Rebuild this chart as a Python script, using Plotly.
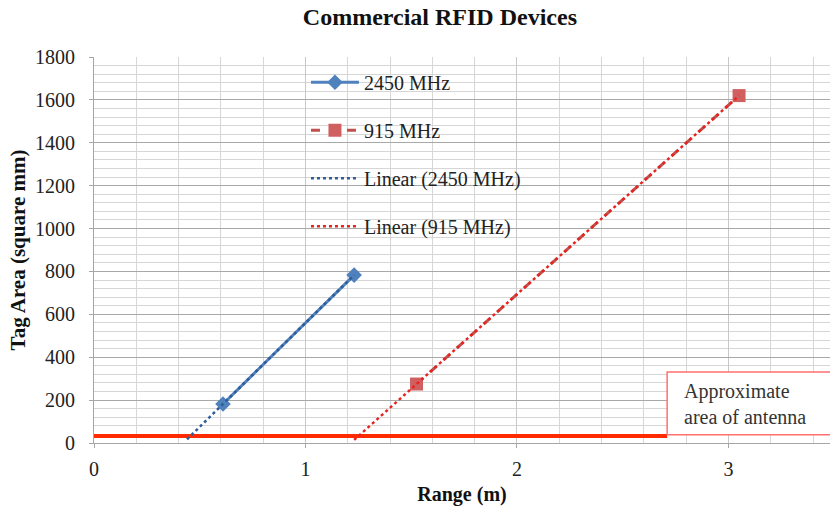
import numpy as np
import plotly.graph_objects as go

# ---- data ----
x_2450 = [0.61, 1.23]
y_2450 = [182, 783]
x_915 = [1.525, 3.05]
y_915 = [275, 1620]
trend_start_2450 = 0.44
trend_start_915 = 1.23
antenna_area = 33
antenna_x = [0, 2.71]
x_ticks = [0, 1, 2, 3]
y_ticks = [0, 200, 400, 600, 800, 1000, 1200, 1400, 1600, 1800]

FONT = "Liberation Serif, Times New Roman, serif"

def trend(xs, ys, x0):
    m, b = np.polyfit(xs, ys, 1)
    xx = np.array([x0, xs[-1]])
    return xx, m * xx + b

tx_b, ty_b = trend(x_2450, y_2450, trend_start_2450)
tx_r, ty_r = trend(x_915, y_915, trend_start_915)

fig = go.Figure()

fig.add_trace(go.Scatter(x=antenna_x, y=[antenna_area, antenna_area], mode="lines",
                         line=dict(color="#FF2A00", width=4), showlegend=False, hoverinfo="skip"))

fig.add_trace(go.Scatter(x=x_2450, y=y_2450, name="2450 MHz", mode="lines+markers",
                         line=dict(color="#4F81BD", width=3),
                         marker=dict(symbol="diamond", size=12, color="#4F81BD"),
                         legendgroup="a"))
fig.add_trace(go.Scatter(x=x_915, y=y_915, name="915 MHz", mode="lines+markers",
                         line=dict(color="#C0504D", width=3, dash="dash"),
                         marker=dict(symbol="square", size=13, color="#D06060"),
                         legendgroup="b"))
fig.add_trace(go.Scatter(x=tx_b, y=ty_b, name="Linear (2450 MHz)", mode="lines",
                         line=dict(color="#2E5D9A", width=2.5, dash="dot"),
                         legendgroup="c"))
fig.add_trace(go.Scatter(x=tx_r, y=ty_r, name="Linear (915 MHz)", mode="lines",
                         line=dict(color="#E8231F", width=2.5, dash="dot"),
                         legendgroup="d"))

# white panel behind legend (covers gridlines from plot top)
fig.add_shape(type="rect", xref="paper", yref="paper", x0=0.288, x1=0.595, y0=0.515, y1=1,
              line=dict(width=0), fillcolor="white", layer="between")
fig.add_shape(type="rect", xref="x", yref="y", x0=2.71, x1=3.7, y0=38, y1=331,
              line=dict(color="#FF7070", width=1.5), fillcolor="white", layer="above")
fig.add_annotation(x=2.78, y=184, xref="x", yref="y", xanchor="left", yanchor="middle",
                   text="Approximate<br>area of antenna", showarrow=False, align="left",
                   font=dict(family=FONT, size=20, color="#333333"))

fig.update_layout(
    width=830, height=514,
    margin=dict(l=94, r=0, t=57, b=71),
    paper_bgcolor="white", plot_bgcolor="white",
    font=dict(family=FONT, size=20, color="#222222"),
    title=dict(text="<b>Commercial RFID Devices</b>", x=0.47, xref="paper", xanchor="center",
               y=0.967, yanchor="middle", font=dict(family=FONT, size=24, color="#111111")),
    legend=dict(x=0.288, y=0.985, xanchor="left", yanchor="top", bgcolor="rgba(0,0,0,0)",
                font=dict(family=FONT, size=20, color="#222222"),
                tracegroupgap=19, itemwidth=48),
    showlegend=True,
)
fig.update_xaxes(range=[0, 3.48], tickvals=x_ticks, showgrid=True, gridcolor="#C8C8C8",
                 minor=dict(dtick=0.2, showgrid=True, gridcolor="#D6D6D6"),
                 showline=True, linecolor="#A6A6A6", zeroline=False, automargin=False,
                 title=dict(text="<b>Range (m)</b>", font=dict(family=FONT, size=20, color="#111111"), standoff=7),
                 tickfont=dict(size=20), ticks="outside", ticklen=4, tickcolor="#A6A6A6",
                 ticklabelstandoff=4)
fig.update_yaxes(range=[0, 1800], tickvals=y_ticks, showgrid=True, gridcolor="#A8A8A8",
                 minor=dict(dtick=40, showgrid=True, gridcolor="#D6D6D6"),
                 showline=True, linecolor="#A6A6A6", zeroline=False, automargin=False,
                 title=dict(text="<b>Tag Area (square mm)</b>", font=dict(family=FONT, size=21, color="#111111"), standoff=3),
                 tickfont=dict(size=20), ticks="outside", ticklen=4, tickcolor="#A6A6A6",
                 ticklabelstandoff=10)

fig.write_html("out.html", config={"displayModeBar": False},
               post_script="document.body.style.margin='0';")
